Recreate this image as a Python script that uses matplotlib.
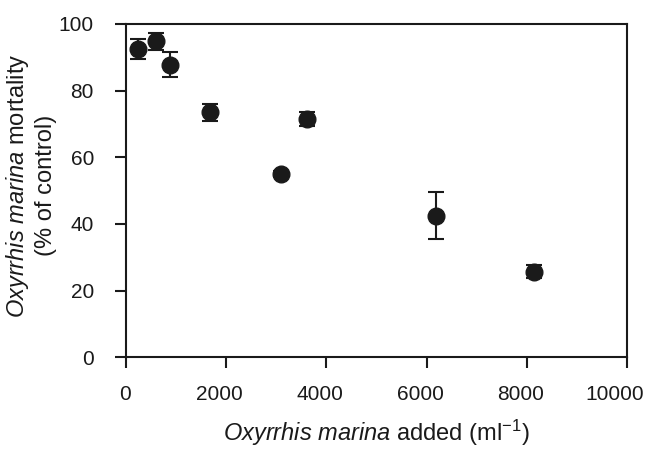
import matplotlib
matplotlib.use('Agg')
import matplotlib.pyplot as plt
import matplotlib.transforms as mtransforms

plt.rcParams['font.family'] = ['Liberation Sans', 'DejaVu Sans']
plt.rcParams['mathtext.fontset'] = 'custom'
plt.rcParams['mathtext.rm'] = 'Liberation Sans'
plt.rcParams['mathtext.it'] = 'Liberation Sans:italic'

# Oxyrrhis marina added (ml^-1) vs. mortality (% of control)
added = [250, 600, 880, 1680, 3100, 3620, 6180, 8150]
mortality = [92.5, 94.8, 87.8, 73.5, 55.0, 71.5, 42.5, 25.7]
err = [3.0, 2.5, 3.8, 2.5, 1.0, 2.2, 7.0, 2.0]
xtick_vals = [0, 2000, 4000, 6000, 8000, 10000]
xtick_labels = ['0', '2000', '4000', '6000', '8000', '10000']

fig = plt.figure(figsize=(6.49, 4.5), dpi=100)
ax = fig.add_axes([0.194, 0.206, 0.772, 0.741])

ax.errorbar(added, mortality, yerr=err, fmt='o', color='#1a1a1a', ecolor='#1a1a1a',
            markersize=12, elinewidth=1.5, capsize=5.5, capthick=1.5)

ax.set_xlim(0, 10000)
ax.set_ylim(0, 100)
ax.set_xticks(xtick_vals)
ax.set_xticklabels(xtick_labels)
ax.set_yticks([0, 20, 40, 60, 80, 100])

ax.tick_params(direction='out', length=8, width=1.5, labelsize=15, colors='#1a1a1a')
ax.tick_params(axis='x', pad=12)
ax.tick_params(axis='y', pad=15)
for s in ax.spines.values():
    s.set_linewidth(1.5)
    s.set_color('#1a1a1a')

# x labels in the original sit slightly left of their ticks
for lab, shift in zip(ax.get_xticklabels(), [-1, -6.5, -6.5, -6.5, -6.5, -12]):
    lab.set_transform(lab.get_transform() + mtransforms.ScaledTranslation(shift / 100, 0, fig.dpi_scale_trans))

ax.set_xlabel(r'$\it{Oxyrrhis\ marina}$ added (ml$^{-1}$)', fontsize=17, labelpad=10, color='#1a1a1a')
ax.set_ylabel(r'$\it{Oxyrrhis\ marina}$ mortality' + '\n(% of control)', fontsize=17,
              linespacing=1.25, color='#1a1a1a')
ax.yaxis.set_label_coords(-0.138, 0.515)

fig.savefig('out.png', dpi=100)
